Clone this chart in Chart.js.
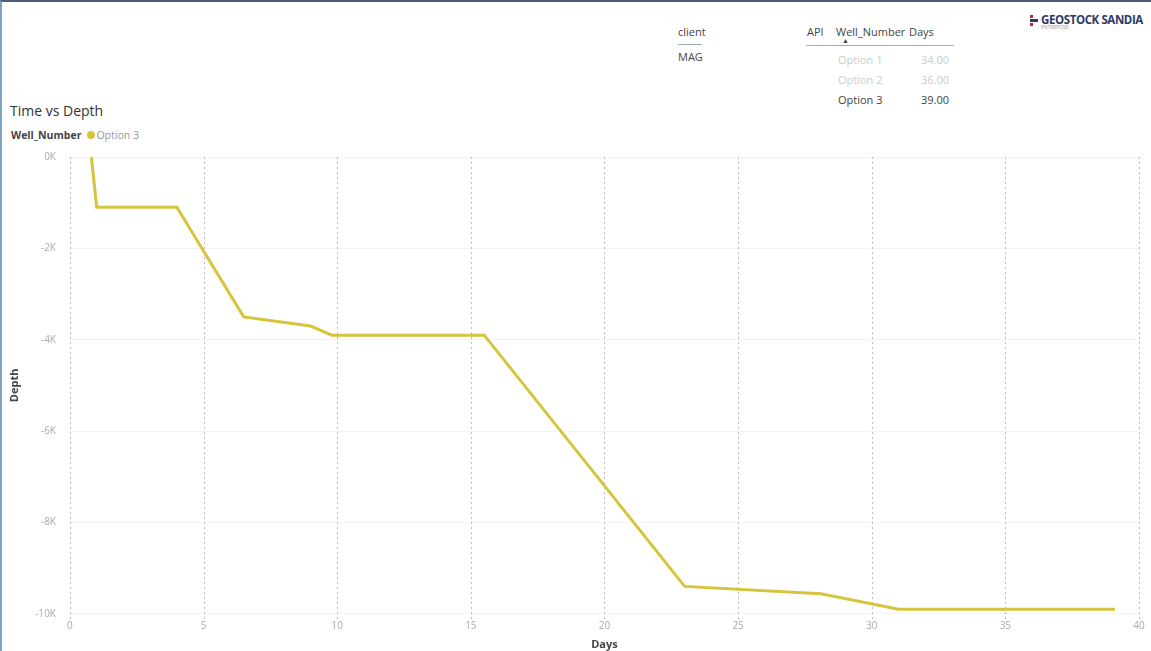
<!DOCTYPE html>
<html>
<head>
<meta charset="utf-8">
<script src="https://cdn.jsdelivr.net/npm/chart.js@4"></script>
<style>
  body { margin: 0; background: #fff; font-family: 'Open Sans', 'Noto Sans', sans-serif; }
  #page { position: relative; width: 1151px; height: 651px; overflow: hidden; border-top: 2px solid #4a5e78; border-left: 2px solid #7fa3c8; box-sizing: border-box; }
  .t { position: absolute; white-space: nowrap; color: #444; font-size: 11px; }
  #title { left: 8px; top: 99px; font-size: 14px; color: #333; }
  #legend { left: 9px; top: 126px; font-size: 10.5px; }
  #legend b { color: #444; }
  #legend .dot { display: inline-block; width: 8px; height: 8px; border-radius: 50%; background: #d6c53c; margin: 0 1px 0 6px; }
  #legend span.lab { color: #999; }
  .dim { color: #ccc; }
  #logo { left: 1028px; top: 10px; font-size: 11.5px; font-weight: bold; color: #2b3a67; letter-spacing: -0.4px; }
  #logo .mark { display: inline-block; width: 8px; vertical-align: middle; margin-right: 3px; line-height: 4px; }
  #logo .mark i { display: block; height: 3px; margin: 1px 0; }
  #logo small { display: block; font-size: 5px; color: #999; margin-left: 11px; margin-top: -3px; letter-spacing: 0; font-weight: normal; }
  #chartBox { position: absolute; left: 0; top: 135px; width: 1151px; height: 516px; }
</style>
</head>
<body>
<div id="page">
  <div class="t" style="left:676px;top:22px;">client</div>
  <div style="position:absolute;left:676px;top:42px;width:24px;border-top:1px solid #9ab;"></div>
  <div class="t" style="left:676px;top:47px;">MAG</div>
  <div class="t" style="left:805px;top:22px;">API</div>
  <div class="t" style="left:834px;top:22px;">Well_Number</div>
  <div class="t" style="left:840px;top:34px;font-size:7px;">&#9650;</div>
  <div class="t" style="left:907px;top:22px;">Days</div>
  <div style="position:absolute;left:804px;top:43px;width:148px;border-top:1px solid #9ab;"></div>
  <div class="t dim" style="left:836px;top:50px;">Option 1</div>
  <div class="t dim" style="left:919px;top:50px;">34.00</div>
  <div class="t dim" style="left:836px;top:70px;">Option 2</div>
  <div class="t dim" style="left:919px;top:70px;">36.00</div>
  <div class="t" style="left:836px;top:90px;">Option 3</div>
  <div class="t" style="left:919px;top:90px;">39.00</div>
  <div class="t" id="logo"><span class="mark"><i style="width:3px;background:#c0273a;"></i><i style="background:#2b3a67;"></i><i style="width:3px;background:#c0273a;"></i></span>GEOSTOCK SANDIA<small>ENTREPOSE</small></div>

  <div class="t" id="title">Time vs Depth</div>
  <div class="t" id="legend"><b>Well_Number</b><span class="dot"></span><span class="lab">Option 3</span></div>

  <div id="chartBox"><canvas id="depthChart"></canvas></div>
</div>
<script>
const days = [0.8, 1.0, 4.0, 6.5, 9.0, 9.8, 15.5, 23.0, 28.1, 31.0, 39.1];
const depth = [0, -1100, -1100, -3500, -3700, -3900, -3900, -9400, -9560, -9900, -9900];
const xTicks = [0, 5, 10, 15, 20, 25, 30, 35, 40];
const yTicks = [0, -2000, -4000, -6000, -8000, -10000];

const points = days.map((d, i) => ({ x: d, y: depth[i] }));

const ctx = document.getElementById('depthChart').getContext('2d');

const depthChart = new Chart(ctx, {
    type: 'line',
    data: {
        datasets: [
            {
                label: 'Option 3',
                data: points,
                borderColor: '#d6c53c',
                borderWidth: 3,
                pointRadius: 0,
                tension: 0
            }
        ]
    },
    options: {
        responsive: true,
        maintainAspectRatio: false,
        animation: false,
        layout: { padding: { left: 6, right: 14, top: 5, bottom: 2 } },
        plugins: {
            legend: { display: false },
            tooltip: { enabled: false }
        },
        scales: {
            x: {
                type: 'linear',
                min: 0,
                max: 40,
                afterBuildTicks: axis => { axis.ticks = xTicks.map(v => ({ value: v })); },
                grid: { display: false, drawTicks: false, tickLength: 0 },
                border: { display: false },
                ticks: { color: '#aaa', font: { size: 10, family: 'Open Sans' }, padding: 6 },
                title: { display: true, text: 'Days', color: '#444', font: { size: 11, weight: 'bold', family: 'Open Sans' }, padding: { top: 0, bottom: 0 } }
            },
            y: {
                min: -10000,
                max: 0,
                afterBuildTicks: axis => { axis.ticks = yTicks.map(v => ({ value: v })); },
                grid: { color: '#f3f3f3', lineWidth: 1, drawTicks: false },
                border: { display: false },
                ticks: {
                    color: '#aaa',
                    font: { size: 10, family: 'Open Sans' },
                    padding: 14,
                    callback: v => (v / 1000) + 'K'
                },
                title: { display: true, text: 'Depth', color: '#444', font: { size: 11, weight: 'bold', family: 'Open Sans' }, padding: { top: 0, bottom: 0 } }
            }
        }
    },
    plugins: [{
        // dotted vertical grid lines like the original
        id: 'dottedX',
        beforeDatasetsDraw(chart) {
            const { ctx, chartArea, scales } = chart;
            ctx.save();
            ctx.strokeStyle = '#bbb';
            ctx.setLineDash([2, 3]);
            ctx.lineWidth = 1;
            xTicks.forEach(v => {
                const px = Math.round(scales.x.getPixelForValue(v)) + 0.5;
                ctx.beginPath();
                ctx.moveTo(px, chartArea.top);
                ctx.lineTo(px, chartArea.bottom + 8);
                ctx.stroke();
            });
            ctx.restore();
        }
    }]
});
</script>
</body>
</html>
